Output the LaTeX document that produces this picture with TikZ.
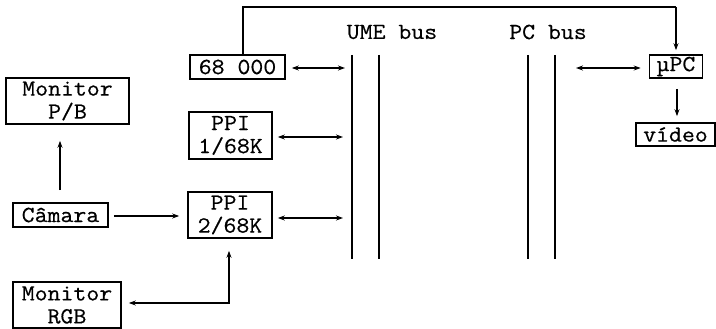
\documentclass[tikz,border=0pt]{standalone}
\usepackage{fontspec}
\setmonofont{Latin Modern Mono}[FakeStretch=1.09,FakeBold=0.6]
\usetikzlibrary{arrows.meta}
\begin{document}
\begin{tikzpicture}[x=1pt,y=-1pt,
  font=\ttfamily\fontsize{23}{23}\selectfont,
  box/.style={draw,line width=1.6pt,inner sep=0pt,align=center,anchor=center},
  conn/.style={line width=1.3pt},
  bus/.style={line width=1.6pt},
  >={Stealth[length=7pt,width=5pt]}]
\useasboundingbox (0,0) rectangle (716,329);
% boxes
\node[box,minimum width=95pt,minimum height=24pt] (m68) at (237.5,67) {68 000};
\node[box,minimum width=83pt,minimum height=47pt] (ppi1) at (230.5,135.5) {PPI\\1/68K};
\node[box,minimum width=84pt,minimum height=46pt] (ppi2) at (230,215) {PPI\\2/68K};
\node[box,minimum width=123pt,minimum height=46pt] (mpb) at (67.5,101) {Monitor\\P/B};
\node[box,minimum width=95pt,minimum height=24pt] (cam) at (60.5,215) {Câmara};
\node[box,minimum width=108pt,minimum height=46pt] (mrgb) at (67,305) {Monitor\\RGB};
\node[box,minimum width=53pt,minimum height=23pt] (upc) at (676,66.5) {µPC};
\node[box,minimum width=79pt,minimum height=23pt] (vid) at (675.5,134.5) {vídeo};
% bus labels
\node (umel) at (392,32) {UME bus};
\node (pcl) at (548,32) {PC bus};
% bus lines
\coordinate (u1t) at (352,55); \coordinate (u1b) at (352,259);
\coordinate (u2t) at (379,55); \coordinate (u2b) at (379,259);
\coordinate (p1t) at (528,55); \coordinate (p1b) at (528,259);
\coordinate (p2t) at (555,55); \coordinate (p2b) at (555,259);
\draw[bus] (u1t) -- (u1b);
\draw[bus] (u2t) -- (u2b);
\draw[bus] (p1t) -- (p1b);
\draw[bus] (p2t) -- (p2b);
% connectors to UME bus
\draw[conn,<->,shorten <=6pt,shorten >=7pt] ([yshift=-1pt]m68.east) -- ([yshift=-1pt]m68.east -| u1t);
\draw[conn,<->,shorten <=5pt,shorten >=9pt] ([yshift=-1.5pt]ppi1.east) -- ([yshift=-1.5pt]ppi1.east -| u1t);
\draw[conn,<->,shorten <=5pt,shorten >=9pt] ([yshift=-3pt]ppi2.east) -- ([yshift=-3pt]ppi2.east -| u1t);
% PC bus to uPC
\draw[conn,<->,shorten <=21pt,shorten >=8pt] ([yshift=-1.5pt]upc.west -| p2t) -- ([yshift=-1.5pt]upc.west);
% top line
\coordinate (tl) at (243,7);
\coordinate (tr) at (676,7);
\draw[conn] (m68.north -| tl) -- (tl) -- (tr);
\draw[conn,->,shorten >=4pt] (tr) -- (upc.north);
\draw[conn,->,shorten <=10pt,shorten >=6pt] ([xshift=1pt]upc.south) -- ([xshift=1pt]upc.south |- vid.north);
% camera links
\draw[conn,->,shorten <=12pt,shorten >=16pt] ([xshift=-0.5pt]cam.north) -- ([xshift=-0.5pt]cam.north |- mpb.south);
\draw[conn,->,shorten <=5pt,shorten >=8pt] ([yshift=-1pt]cam.east) -- ([yshift=-1pt]cam.east -| ppi2.west);
% monitor RGB link
\coordinate (corner) at (229,303);
\draw[conn,<->,shorten <=7pt,shorten >=12pt] (mrgb.east |- corner) -- (corner) -- (corner |- ppi2.south);
\end{tikzpicture}
\end{document}
